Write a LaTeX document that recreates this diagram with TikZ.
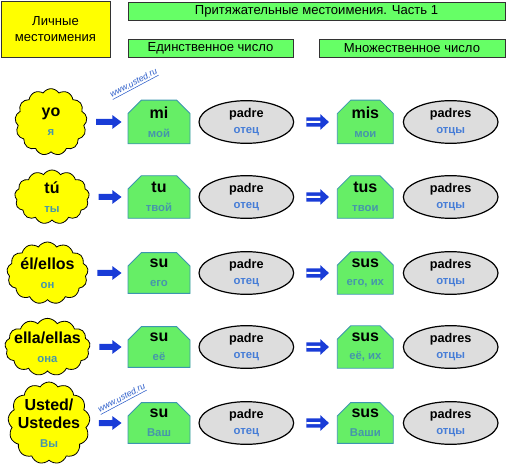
\documentclass[tikz,border=0pt]{standalone}
\usepackage{fontspec}
\setmainfont{Liberation Sans}
\usetikzlibrary{positioning, arrows.meta, shapes.misc, shapes.symbols, shapes.geometric, shadows}

\definecolor{headyellow}{RGB}{255,255,0}
\definecolor{headgreen}{RGB}{102,255,102}
\definecolor{wordgreen}{RGB}{102,238,102}
\definecolor{wordedge}{RGB}{60,150,175}
\definecolor{nounfill}{RGB}{221,221,221}
\definecolor{subteal}{RGB}{70,150,170}
\definecolor{subblue}{RGB}{70,125,215}
\definecolor{arrowblue}{RGB}{25,60,215}
\definecolor{linkblue}{RGB}{40,90,200}

\newcommand{\rus}[1]{{\fontsize{8.5}{9}\selectfont\color{subteal}#1}}
\newcommand{\rusn}[1]{{\fontsize{8.5}{9}\selectfont\color{subblue}#1}}
\newcommand{\cw}[1]{\makebox[0pt]{#1}}
\newcommand{\site}{\underline{www.usted.ru}}

\begin{document}
\begin{tikzpicture}[x=0.75pt, y=-0.75pt, font=\fontsize{9.8}{11.5}\selectfont,
  head/.style={rectangle, draw=black!80, line width=0.6pt, minimum height=13.5pt, inner sep=0pt,
    drop shadow={shadow xshift=0.8pt, shadow yshift=-0.8pt, opacity=0.4}},
  pron/.style={cloud, cloud puffs=13, cloud puff arc=115, cloud ignores aspect, draw=black, line width=0.6pt,
    fill=headyellow, inner sep=0pt, align=center, font=\bfseries\fontsize{12}{14}\selectfont},
  word/.style={chamfered rectangle, chamfered rectangle corners={north west, north east},
    chamfered rectangle xsep=5pt, chamfered rectangle ysep=5pt, draw=wordedge, line width=0.6pt,
    fill=wordgreen, minimum width=46.5pt, minimum height=29pt, inner sep=0pt, align=center,
    font=\bfseries\fontsize{12}{14}\selectfont},
  wordpl/.style={word, minimum width=42pt, minimum height=27.75pt},
  noun/.style={ellipse, draw=black, line width=0.9pt, fill=nounfill, minimum width=71pt, minimum height=32pt,
    inner sep=0pt, align=center, font=\bfseries\fontsize{9.5}{12}\selectfont},
  onearrow/.style={-{Triangle[length=7pt, width=10pt]}, line width=4.5pt, arrowblue, shorten <=7pt, shorten >=4.5pt},
  twoarrow/.style={-{Triangle[length=6.5pt, width=11.5pt]}, line width=2.8pt, arrowblue, double=white,
    double distance=1.5pt, shorten <=9pt, shorten >=6pt},
  site/.style={font=\itshape\fontsize{6.5}{7}\selectfont, text=linkblue, rotate=28, inner sep=0pt}
]
\useasboundingbox (0,0) rectangle (506,466);

% headings
\node[head, fill=headyellow, minimum width=81.75pt, minimum height=42pt, align=center] (personal) at (55.5,29) {Личные\\местоимения};
\node[head, fill=headgreen, minimum width=282.75pt] (title) at (316.5,11) {Притяжательные местоимения. Часть 1};
\node[head, fill=headgreen, minimum width=123.75pt] (singular) at (210.5,48) {Единственное число};
\node[head, fill=headgreen, minimum width=139.5pt] (plural) at (412,48) {Множественное число};

% yo
\node[pron, minimum width=54pt, minimum height=50pt] (yo) at (51,122) {yo\\\rus{я}};
\node[word] (mi) at (159,122) {mi\\\rus{мой}};
\node[noun, right=6pt of mi] (padre1) {padre\\\rusn{отец}};
\node[wordpl, right=32pt of padre1] (mis) {mis\\\rus{мои}};
\node[noun, right=6.75pt of mis] (padres1) {padres\\\rusn{отцы}};
\draw[onearrow] (yo) -- (mi);
\draw[twoarrow] (padre1) -- (mis);

% tu
\node[pron, minimum width=56pt, minimum height=40.5pt] (tu) at (52,197) {tú\\\rus{ты}};
\node[word] (tu1) at (159,197) {tu\\\rus{твой}};
\node[noun, right=6pt of tu1] (padre2) {padre\\\rusn{отец}};
\node[wordpl, right=32pt of padre2] (tus) {tus\\\rus{твои}};
\node[noun, right=6.75pt of tus] (padres2) {padres\\\rusn{отцы}};
\draw[onearrow] (tu) -- (tu1);
\draw[twoarrow] (padre2) -- (tus);

% el / ellos
\node[pron, minimum width=61pt, minimum height=46.5pt] (el) at (47.5,273) {\cw{él/ellos}\\\rus{он}};
\node[word] (su3) at (159,273) {su\\\rus{его}};
\node[noun, right=6pt of su3] (padre3) {padre\\\rusn{отец}};
\node[wordpl, right=32pt of padre3] (sus3) {sus\\\rus{его, их}};
\node[noun, right=6.75pt of sus3] (padres3) {padres\\\rusn{отцы}};
\draw[onearrow] (el) -- (su3);
\draw[twoarrow] (padre3) -- (sus3);

% ella / ellas
\node[pron, minimum width=64pt, minimum height=43pt] (ella) at (47.5,347) {\cw{ella/ellas}\\\rus{она}};
\node[word] (su4) at (159,347) {su\\\rus{её}};
\node[noun, right=6pt of su4] (padre4) {padre\\\rusn{отец}};
\node[wordpl, right=32pt of padre4] (sus4) {sus\\\rus{её, их}};
\node[noun, right=6.75pt of sus4] (padres4) {padres\\\rusn{отцы}};
\draw[onearrow] (ella) -- (su4);
\draw[twoarrow] (padre4) -- (sus4);

% usted / ustedes
\node[pron, minimum width=61.5pt, minimum height=61.5pt] (usted) at (49,423) {\cw{Usted/}\\\cw{Ustedes}\\\rus{Вы}};
\node[word] (su5) at (159,423) {su\\\rus{Ваш}};
\node[noun, right=6pt of su5] (padre5) {padre\\\rusn{отец}};
\node[wordpl, right=32pt of padre5] (sus5) {sus\\\rus{Ваши}};
\node[noun, right=6.75pt of sus5] (padres5) {padres\\\rusn{отцы}};
\draw[onearrow] (usted) -- (su5);
\draw[twoarrow] (padre5) -- (sus5);

% site marks
\node[site] (link1) at (134,84) {\site};
\node[site] (link2) at (122,399) {\site};

\end{tikzpicture}
\end{document}
